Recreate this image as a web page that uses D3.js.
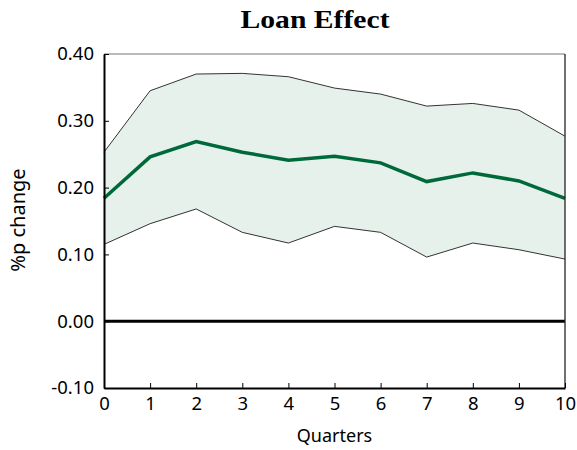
<!DOCTYPE html>
<html>
<head>
<meta charset="utf-8">
<script src="https://cdn.jsdelivr.net/npm/d3@7"></script>
<style>
  body { margin: 0; background: #fff; }
  svg { display: block; }
</style>
</head>
<body>
<svg id="chart" width="577" height="450"></svg>
<script>
const quarters = [0, 1, 2, 3, 4, 5, 6, 7, 8, 9, 10];
const meanEffect = [0.184, 0.246, 0.269, 0.253, 0.241, 0.247, 0.237, 0.209, 0.222, 0.210, 0.184];
const upperBand = [0.253, 0.345, 0.370, 0.371, 0.366, 0.349, 0.340, 0.322, 0.326, 0.316, 0.277];
const lowerBand = [0.115, 0.146, 0.168, 0.133, 0.117, 0.142, 0.133, 0.096, 0.117, 0.107, 0.093];
const yTicks = [-0.10, 0.00, 0.10, 0.20, 0.30, 0.40];

const svg = d3.select("#chart");
const margin = { left: 104, right: 12, top: 54, bottom: 62 };
const width = 577, height = 450;

const x = d3.scaleLinear().domain([0, 10]).range([margin.left, width - margin.right]);
const y = d3.scaleLinear().domain([-0.10, 0.40]).range([height - margin.bottom, margin.top]);

const rows = quarters.map((q, i) => ({ q: q, m: meanEffect[i], hi: upperBand[i], lo: lowerBand[i] }));

// confidence band
const area = d3.area().x(d => x(d.q)).y0(d => y(d.lo)).y1(d => y(d.hi));
svg.append("path").datum(rows).attr("d", area).attr("fill", "#e7f1ec");

const lineHi = d3.line().x(d => x(d.q)).y(d => y(d.hi));
const lineLo = d3.line().x(d => x(d.q)).y(d => y(d.lo));
svg.append("path").datum(rows).attr("d", lineHi).attr("fill", "none").attr("stroke", "#000").attr("stroke-width", 0.8);
svg.append("path").datum(rows).attr("d", lineLo).attr("fill", "none").attr("stroke", "#000").attr("stroke-width", 0.8);

// zero line
svg.append("line").attr("x1", x(0)).attr("x2", x(10)).attr("y1", y(0)).attr("y2", y(0))
  .attr("stroke", "#000").attr("stroke-width", 3);

// mean line
const lineM = d3.line().x(d => x(d.q)).y(d => y(d.m));
svg.append("path").datum(rows).attr("d", lineM).attr("fill", "none").attr("stroke", "#00693a").attr("stroke-width", 3.5);

// frame: top gray, right dark
svg.append("line").attr("x1", x(0)).attr("x2", x(10)).attr("y1", y(0.4)).attr("y2", y(0.4)).attr("stroke", "#777").attr("stroke-width", 1);
svg.append("line").attr("x1", x(10)).attr("x2", x(10)).attr("y1", y(0.4)).attr("y2", y(-0.1)).attr("stroke", "#222").attr("stroke-width", 1.3);

// axes with inward ticks
const fmt = d => d3.format(".2f")(d).replace("\u2212", "-");
const xAxis = d3.axisBottom(x).tickValues(quarters).tickFormat(d3.format("d")).tickSizeInner(-5).tickSizeOuter(0).tickPadding(9);
const gx = svg.append("g").attr("transform", `translate(0,${y(-0.1)})`).call(xAxis);
const yAxis = d3.axisLeft(y).tickValues(yTicks).tickFormat(fmt).tickSizeInner(-5).tickSizeOuter(0).tickPadding(10);
const gy = svg.append("g").attr("transform", `translate(${x(0)},0)`).call(yAxis);

[gx, gy].forEach(g => {
  g.select(".domain").attr("stroke", "#000").attr("stroke-width", 2);
  g.selectAll(".tick line").attr("stroke", "#000").attr("stroke-width", 1);
  g.selectAll(".tick text").attr("font-family", "Noto Sans").attr("font-size", 18.5).attr("fill", "#000");
});
gx.selectAll(".tick text").attr("dy", "0.71em");

// titles
svg.append("text").attr("x", 315).attr("y", 28).attr("text-anchor", "middle")
  .attr("font-family", "Liberation Serif").attr("font-weight", "bold").attr("font-size", 25)
  .attr("textLength", 149).attr("lengthAdjust", "spacingAndGlyphs").text("Loan Effect");

svg.append("text").attr("x", x(5)).attr("y", 442).attr("text-anchor", "middle")
  .attr("font-family", "Noto Sans").attr("font-size", 18).text("Quarters");

svg.append("text").attr("transform", "translate(25,220) rotate(-90)").attr("text-anchor", "middle")
  .attr("font-family", "Noto Sans").attr("font-size", 20).text("%p change");
</script>
</body>
</html>
